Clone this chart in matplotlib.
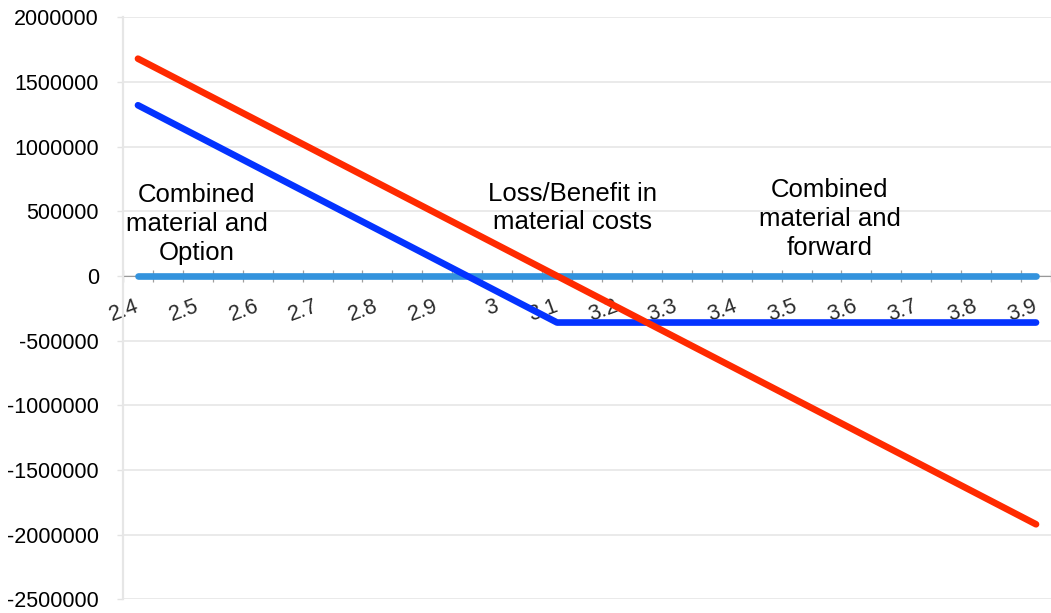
import matplotlib.pyplot as plt
import numpy as np

# prices on the category axis, every 0.05
prices = ['2.4', '2.45', '2.5', '2.55', '2.6', '2.65', '2.7', '2.75', '2.8', '2.85',
          '2.9', '2.95', '3', '3.05', '3.1', '3.15', '3.2', '3.25', '3.3', '3.35',
          '3.4', '3.45', '3.5', '3.55', '3.6', '3.65', '3.7', '3.75', '3.8', '3.85', '3.9']

loss_benefit = [1680000, 1560000, 1440000, 1320000, 1200000, 1080000, 960000, 840000,
                720000, 600000, 480000, 360000, 240000, 120000, 0, -120000,
                -240000, -360000, -480000, -600000, -720000, -840000, -960000, -1080000,
                -1200000, -1320000, -1440000, -1560000, -1680000, -1800000, -1920000]

material_option = [1320000, 1200000, 1080000, 960000, 840000, 720000, 600000, 480000,
                   360000, 240000, 120000, 0, -120000, -240000, -360000, -360000,
                   -360000, -360000, -360000, -360000, -360000, -360000, -360000, -360000,
                   -360000, -360000, -360000, -360000, -360000, -360000, -360000]

material_forward = [0] * 31

y_ticks = [2000000, 1500000, 1000000, 500000, 0, -500000, -1000000,
           -1500000, -2000000, -2500000]

plt.rcParams['font.family'] = ['Liberation Sans', 'DejaVu Sans']

fig = plt.figure(figsize=(10.51, 6.13), dpi=100)
ax = fig.add_axes([123 / 1051, 1 - 599.3 / 613, 1 - 123 / 1051, (599.3 - 17.3) / 613])

x = np.arange(len(prices))
ax.plot(x, material_forward, color='#3393dd', linewidth=4.8, solid_capstyle='round', zorder=3)
ax.plot(x, material_option, color='#0433ff', linewidth=4.8, solid_capstyle='round', zorder=4)
ax.plot(x, loss_benefit, color='#ff2a00', linewidth=4.8, solid_capstyle='round', zorder=5)

ax.set_xlim(-0.5, -0.5 + (1051 - 123) / 30)
ax.set_ylim(-2500000, 2000000)

ax.set_yticks(y_ticks)
ax.set_yticklabels([str(v) for v in y_ticks], fontsize=15.5)
ax.tick_params(axis='y', length=4.3, width=1, color='#e3e3e3', pad=13)
ax.grid(axis='y', color='#e6e6e6', linewidth=1.2)
ax.set_axisbelow(True)

# x axis sits on zero; ticks at category edges, labels every other category
ax.spines['bottom'].set_position(('data', 0))
ax.spines['bottom'].set_color('#999999')
ax.spines['bottom'].set_zorder(2)
ax.spines['left'].set_color('#e6e6e6')
ax.spines['left'].set_linewidth(1.6)
ax.spines['top'].set_visible(False)
ax.spines['right'].set_visible(False)

ax.set_xticks(np.arange(-0.5, len(prices), 1.0))
ax.set_xticklabels([])
ax.tick_params(axis='x', which='major', direction='inout', length=8, width=0.9, color='#a0a0a0')
ax.set_xticks(x[::2], minor=True)
ax.set_xticklabels(prices[::2], minor=True, fontsize=15.5, color='#2a2a2a')
ax.tick_params(axis='x', which='minor', length=0, pad=21.6)
for lab in ax.get_xticklabels(minor=True):
    lab.set_rotation(20)
    lab.set_ha('right')
    lab.set_va('center')
    lab.set_rotation_mode('anchor')

ax.text(1.97, 402000, 'Combined\nmaterial and\nOption', ha='center', va='center',
        fontsize=18.5, linespacing=1.25, zorder=6)
ax.text(14.53, 526000, 'Loss/Benefit in\nmaterial costs', ha='center', va='center',
        fontsize=18.5, linespacing=1.25, zorder=6)
ax.text(23.1, 440000, 'Combined\nmaterial and\nforward', ha='center', va='center',
        fontsize=18.5, linespacing=1.25, zorder=6)

fig.savefig('out.png', dpi=100)
